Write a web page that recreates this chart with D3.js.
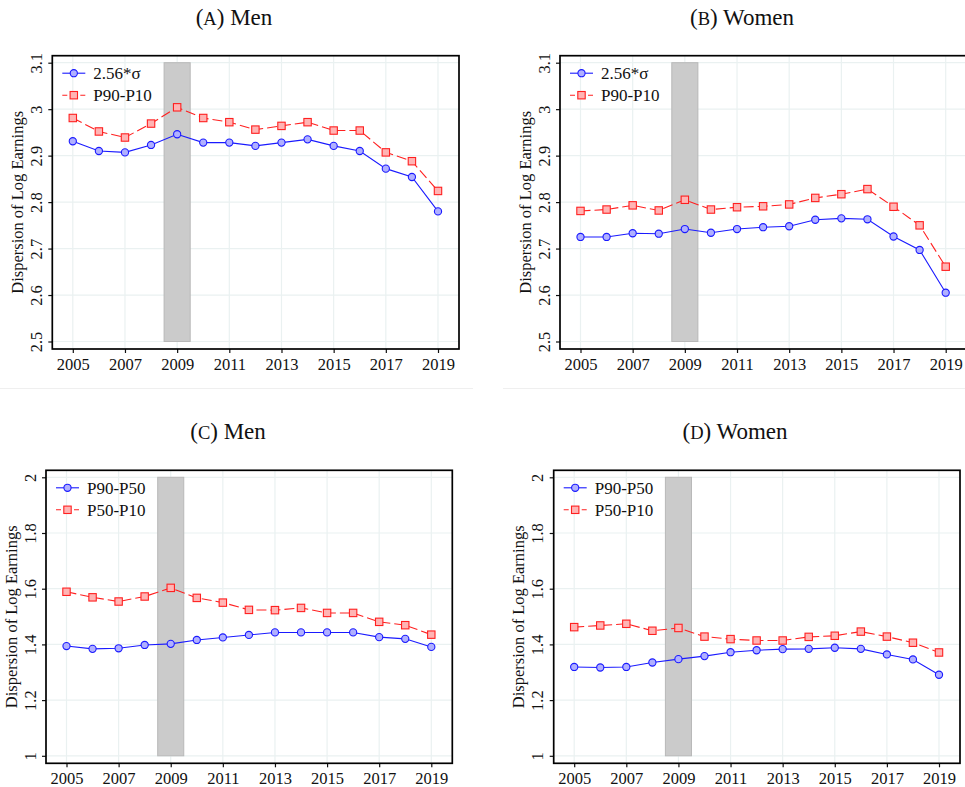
<!DOCTYPE html>
<html>
<head>
<meta charset="utf-8">
<script src="https://cdn.jsdelivr.net/npm/d3@7"></script>
<style>
  body { margin: 0; background: #fff; }
  svg { display: block; font-family: "Liberation Serif", "Times New Roman", serif; }
</style>
</head>
<body>
<svg id="chart" width="965" height="787"></svg>
<script>
// years on the x axis
const years = [2005, 2006, 2007, 2008, 2009, 2010, 2011, 2012, 2013, 2014, 2015, 2016, 2017, 2018, 2019];
const xTicks = [2005, 2007, 2009, 2011, 2013, 2015, 2017, 2019];
const recession = [2008.5, 2009.5];

// panel A/B : 2.56*sigma and P90-P10
const sigmaMen   = [2.931, 2.910, 2.907, 2.923, 2.946, 2.928, 2.928, 2.921, 2.928, 2.935, 2.921, 2.910, 2.872, 2.854, 2.780];
const p9010Men   = [2.981, 2.952, 2.939, 2.969, 3.004, 2.981, 2.972, 2.956, 2.964, 2.972, 2.954, 2.954, 2.907, 2.888, 2.824];
const sigmaWomen = [2.725, 2.725, 2.733, 2.732, 2.742, 2.734, 2.742, 2.746, 2.748, 2.762, 2.765, 2.763, 2.726, 2.697, 2.605];
const p9010Women = [2.781, 2.784, 2.793, 2.782, 2.805, 2.784, 2.789, 2.791, 2.795, 2.809, 2.817, 2.828, 2.790, 2.750, 2.661];

// panel C/D : P90-P50 and P50-P10
const p9050Men   = [1.394, 1.384, 1.386, 1.398, 1.402, 1.416, 1.425, 1.434, 1.443, 1.443, 1.443, 1.443, 1.426, 1.420, 1.391];
const p5010Men   = [1.589, 1.569, 1.554, 1.572, 1.603, 1.567, 1.550, 1.524, 1.523, 1.531, 1.513, 1.513, 1.481, 1.469, 1.435];
const p9050Women = [1.319, 1.317, 1.319, 1.335, 1.347, 1.358, 1.372, 1.379, 1.383, 1.384, 1.388, 1.384, 1.364, 1.346, 1.291];
const p5010Women = [1.462, 1.468, 1.474, 1.449, 1.459, 1.428, 1.419, 1.414, 1.414, 1.427, 1.431, 1.446, 1.428, 1.406, 1.371];

// tick labels
const yTicksTop = [2.5, 2.6, 2.7, 2.8, 2.9, 3, 3.1];
const yTicksBottom = [1, 1.2, 1.4, 1.6, 1.8, 2];
const legendTop = ["2.56*σ", "P90-P10"];
const legendBottom = ["P90-P50", "P50-P10"];

const svg = d3.select("#chart");

// light separators under the top row
svg.append("line").attr("x1", 0).attr("x2", 473).attr("y1", 388.5).attr("y2", 388.5)
  .attr("stroke", "#efefef").attr("stroke-width", 1);
svg.append("line").attr("x1", 503).attr("x2", 965).attr("y1", 388.5).attr("y2", 388.5)
  .attr("stroke", "#efefef").attr("stroke-width", 1);

const panels = [
  { letter: "A", name: "Men",   tx: 234, ty: 25,  left: 52.3, top: 55.7,  w: 406.7, h: 293.3,
    yTicks: yTicksTop, blue: sigmaMen, red: p9010Men, legend: legendTop },
  { letter: "B", name: "Women", tx: 742, ty: 25,  left: 560,  top: 55.7,  w: 406.7, h: 293.3,
    yTicks: yTicksTop, blue: sigmaWomen, red: p9010Women, legend: legendTop },
  { letter: "C", name: "Men",   tx: 228, ty: 439, left: 46,   top: 470.3, w: 406.3, h: 293,
    yTicks: yTicksBottom, blue: p9050Men, red: p5010Men, legend: legendBottom },
  { letter: "D", name: "Women", tx: 735, ty: 439, left: 553.7, top: 470.3, w: 406.3, h: 293,
    yTicks: yTicksBottom, blue: p9050Women, red: p5010Women, legend: legendBottom }
];

function drawPanel(p) {
  const g = svg.append("g");
  const yMin = d3.min(p.yTicks), yMax = d3.max(p.yTicks);

  // x scale: data sits inside the frame with a margin, like Stata
  const x = d3.scaleLinear().domain([2005, 2019]).range([p.left + 20.5, p.left + p.w - 21]);
  const y = d3.scaleLinear().domain([yMin, yMax]).range([p.top + p.h - 7.5, p.top + 7]);

  // title with small caps letter
  const t = g.append("text").attr("x", p.tx).attr("y", p.ty)
    .attr("text-anchor", "middle").attr("font-size", 23).attr("fill", "#111");
  t.append("tspan").text("(");
  t.append("tspan").attr("font-size", 18.5).text(p.letter);
  t.append("tspan").text(") " + p.name);

  // gridlines
  g.selectAll(".vgrid").data(xTicks).join("line")
    .attr("x1", d => x(d)).attr("x2", d => x(d))
    .attr("y1", p.top).attr("y2", p.top + p.h)
    .attr("stroke", "#eaf1f1").attr("stroke-width", 1.2);
  g.selectAll(".hgrid").data(p.yTicks).join("line")
    .attr("x1", p.left).attr("x2", p.left + p.w)
    .attr("y1", d => y(d)).attr("y2", d => y(d))
    .attr("stroke", "#eaf1f1").attr("stroke-width", 1.2);

  // recession band
  g.append("rect")
    .attr("x", x(recession[0])).attr("width", x(recession[1]) - x(recession[0]))
    .attr("y", y(yMax)).attr("height", y(yMin) - y(yMax))
    .attr("fill", "#cbcbcb").attr("stroke", "#b8b8b8").attr("stroke-width", 1);

  const line = d3.line().x((d, i) => x(years[i])).y(d => y(d));

  // red dashed series with squares
  g.append("path").datum(p.red).attr("d", line)
    .attr("fill", "none").attr("stroke", "#ff2020").attr("stroke-width", 1.1)
    .attr("stroke-dasharray", "10,4");
  g.selectAll(".sq").data(p.red).join("rect")
    .attr("x", (d, i) => x(years[i]) - 3.7).attr("y", d => y(d) - 3.7)
    .attr("width", 7.4).attr("height", 7.4)
    .attr("fill", "#ffb4b4").attr("stroke", "#ff2020").attr("stroke-width", 1.1);

  // blue solid series with circles
  g.append("path").datum(p.blue).attr("d", line)
    .attr("fill", "none").attr("stroke", "#1a1aff").attr("stroke-width", 1.1);
  g.selectAll(".ci").data(p.blue).join("circle")
    .attr("cx", (d, i) => x(years[i])).attr("cy", d => y(d)).attr("r", 3.6)
    .attr("fill", "#b0b0ff").attr("stroke", "#1a1aff").attr("stroke-width", 1.1);

  // axes
  const xAxis = g.append("g").attr("transform", `translate(0,${p.top + p.h})`)
    .call(d3.axisBottom(x).tickValues(xTicks).tickSize(4).tickPadding(5).tickFormat(d3.format("d")))
    .attr("font-family", null).attr("font-size", null);
  xAxis.select(".domain").remove();
  xAxis.selectAll("text").attr("font-size", 16.5).attr("fill", "#111");

  const yAxis = g.append("g").attr("transform", `translate(${p.left},0)`)
    .call(d3.axisLeft(y).tickValues(p.yTicks).tickSize(4).tickFormat(d3.format("")))
    .attr("font-family", null).attr("font-size", null);
  yAxis.select(".domain").remove();
  yAxis.selectAll("text")
    .attr("transform", "rotate(-90)")
    .attr("x", 0).attr("y", -10.5).attr("dy", null)
    .attr("text-anchor", "middle")
    .attr("font-size", 16.5).attr("fill", "#111");
  g.selectAll(".tick line").attr("stroke", "#111").attr("stroke-width", 1.2);

  // y axis title
  g.append("text")
    .attr("transform", `translate(${p.left - 35},${p.top + p.h / 2}) rotate(-90)`)
    .attr("text-anchor", "middle").attr("dy", "0.35em")
    .attr("font-size", 16.5).attr("fill", "#111")
    .text("Dispersion of Log Earnings");

  // frame
  g.append("rect").attr("x", p.left).attr("y", p.top).attr("width", p.w).attr("height", p.h)
    .attr("fill", "none").attr("stroke", "#000").attr("stroke-width", 1.7);

  // legend
  const lg = g.append("g").attr("transform", `translate(${p.left + 10},${p.top + 17.5})`);
  lg.append("line").attr("x1", 0).attr("x2", 23).attr("y1", 0).attr("y2", 0)
    .attr("stroke", "#1a1aff").attr("stroke-width", 1.1);
  lg.append("circle").attr("cx", 11.5).attr("cy", 0).attr("r", 3.6)
    .attr("fill", "#b0b0ff").attr("stroke", "#1a1aff").attr("stroke-width", 1.1);
  lg.append("line").attr("x1", 0).attr("x2", 23).attr("y1", 22).attr("y2", 22)
    .attr("stroke", "#ff2020").attr("stroke-width", 1.1).attr("stroke-dasharray", "5,3.5,6,3.5,5");
  lg.append("rect").attr("x", 11.5 - 3.7).attr("y", 22 - 3.7).attr("width", 7.4).attr("height", 7.4)
    .attr("fill", "#ffb4b4").attr("stroke", "#ff2020").attr("stroke-width", 1.1);
  lg.selectAll(".lt").data(p.legend).join("text")
    .attr("x", 31).attr("y", (d, i) => i * 22).attr("dy", "0.35em")
    .attr("font-size", 17).attr("fill", "#111")
    .text(d => d);
}

panels.forEach(drawPanel);
</script>
</body>
</html>
